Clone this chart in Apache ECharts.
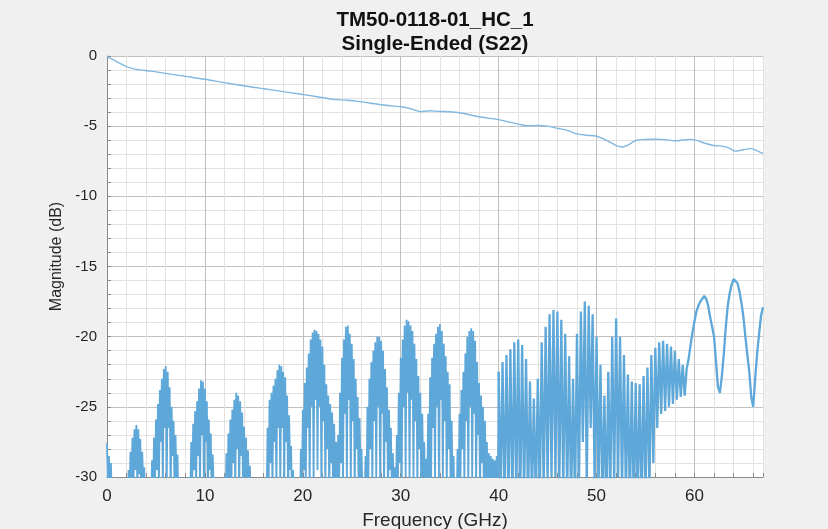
<!DOCTYPE html>
<html>
<head>
<meta charset="utf-8">
<script src="https://cdn.jsdelivr.net/npm/echarts@6/dist/echarts.min.js"></script>
<style>
html,body{margin:0;padding:0;background:#f0f0f0;}
#chart{width:828px;height:529px;}
</style>
</head>
<body>
<div id="chart"></div>
<script>
// ---- data ----
var titleLines = ['TM50-0118-01_HC_1', 'Single-Ended (S22)'];
var xName = 'Frequency (GHz)';
var yName = 'Magnitude (dB)';
var xMin = 0, xMax = 67, xMajor = 10, xMinor = 2;
var yMin = -30, yMax = 0, yMajor = 5, yMinor = 1;

// upper trace: [GHz, dB]
var upperTrace = [
  [0,-0.05],[1,-0.4],[2,-0.76],[3,-0.95],[4.5,-1.08],[6,-1.24],[8,-1.45],[10,-1.66],
  [12,-1.9],[14.6,-2.19],[16,-2.33],[18,-2.54],[19.7,-2.71],[21.5,-2.9],[23.1,-3.09],
  [24.5,-3.15],[25.8,-3.25],[28.2,-3.49],[30,-3.62],[31,-3.75],[32,-3.97],[33,-3.9],
  [34,-3.95],[35,-3.97],[36,-4.04],[38,-4.33],[40,-4.53],[42,-4.85],[43,-4.97],[44,-4.95],
  [45,-5.0],[46,-5.15],[47,-5.3],[48,-5.55],[49,-5.65],[50,-5.72],[51,-6.0],[52,-6.38],
  [52.6,-6.48],[53.2,-6.35],[54,-6.02],[55,-5.95],[56,-5.93],[57,-5.96],[58,-6.04],
  [59,-5.97],[59.6,-5.94],[60.4,-6.05],[61,-6.2],[62,-6.38],[62.8,-6.42],[63.5,-6.55],
  [64.2,-6.78],[65,-6.68],[65.7,-6.6],[66.3,-6.72],[67,-6.95]
];

// lower (rippling) trace, part A: dB every 0.1 GHz from 0 GHz to 39.9 GHz
var lowerStartA = 0, lowerStepA = 0.1;
var lowerDbA = [
  -27.6,-30.5,-28.5,-33,-29.0,-31.5,-31,-34,-32,-34,
  -33,-35,-33,-35,-33,-35,-33,-35,-33,-35,
  -31.5,-34,-29.5,-31.5,-28.2,-30.5,-27.2,-31,-26.6,-29.5,
  -26.3,-31,-26.6,-29.8,-27.3,-31.5,-28.2,-30.5,-29.3,-32,
  -30.5,-33,-32,-34,-30.2,-32,-28.8,-31.5,-27.2,-30.5,
  -25.9,-29.5,-24.8,-31,-23.8,-27.5,-23.0,-31,-22.3,-26.5,
  -22.1,-31,-22.5,-26.5,-23.6,-31.5,-25.0,-28.5,-26.0,-31,
  -27.0,-30.5,-28.4,-32,-30.0,-33,-31.5,-34,-33,-35,
  -33,-35,-32,-34,-30.0,-32,-27.5,-31,-26.2,-29.5,
  -25.3,-31,-24.6,-28.5,-23.7,-31,-23.1,-27.0,-23.2,-31,
  -23.7,-27.5,-24.6,-31.5,-25.9,-29.5,-26.9,-32,-28.4,-31,
  -30.0,-33,-31.5,-34,-33,-35,-33,-35,-32,-34,
  -30.0,-32,-28.3,-31.5,-26.9,-30,-25.9,-31,-25.2,-29,
  -24.5,-31,-24.0,-28,-24.2,-31.5,-24.6,-28.5,-25.4,-31,
  -26.4,-30,-27.2,-31.5,-28.1,-31,-29.2,-32.5,-30.2,-33,
  -32,-35,-33,-35,-33,-35,-33,-35,-33,-35,
  -32,-34,-30.5,-32,-26.5,-31,-24.5,-29,-24.0,-31,
  -23.5,-27.5,-23.0,-31,-22.4,-26.5,-22.0,-31,-22.1,-26.5,
  -22.5,-31,-22.9,-27.5,-24.2,-31.5,-25.6,-29.5,-27.8,-32,
  -29.5,-33,-31.0,-34,-32,-35,-30.5,-33,-28.0,-31.5,
  -25.2,-29.5,-23.3,-31,-22.2,-26.5,-21.2,-31,-20.2,-25,
  -19.7,-30.5,-19.5,-24.5,-19.6,-29.5,-19.8,-25,-20.2,-31,
  -20.7,-26,-22.0,-31,-23.4,-28,-24.2,-31.5,-24.8,-29,
  -25.4,-32,-26.2,-30.5,-27.5,-32.5,-27.0,-31.5,-24.0,-29,
  -21.5,-31,-20.2,-25.5,-19.3,-30.5,-19.2,-24.5,-19.8,-31,
  -20.5,-26,-21.6,-31.5,-23.0,-28,-24.3,-31.5,-25.8,-30,
  -28.0,-32,-30.5,-33,-28.5,-31.5,-25.0,-30,-23.0,-28,
  -21.8,-31,-21.0,-26,-20.4,-30.5,-20.0,-25,-20.0,-31,
  -20.3,-25.5,-21.0,-31,-22.3,-27.5,-23.6,-31.5,-25.2,-29.5,
  -26.5,-32,-28.3,-31,-29.3,-32.5,-27.0,-31,-24.0,-29,
  -21.5,-30.5,-20.2,-25,-19.2,-30,-18.8,-24,-18.9,-30.5,
  -19.2,-24.5,-19.6,-30.5,-20.5,-26,-21.6,-31,-22.8,-28,
  -24.0,-31.5,-25.5,-30,-27.5,-32.5,-28.7,-32,-25.5,-30,
  -22.9,-31,-21.5,-26.5,-20.5,-30.5,-19.8,-25,-19.3,-30.5,
  -19.1,-24.5,-19.6,-30.5,-20.5,-26,-21.4,-31,-22.5,-28,
  -23.4,-31.5,-26.0,-30.5,-28.5,-33,-30.0,-33,-28.0,-31.5,
  -25.5,-30.5,-23.8,-28,-22.5,-31,-21.2,-26,-20.0,-31,
  -19.6,-25,-19.4,-30.5,-19.6,-25.5,-20.3,-31,-21.8,-27,
  -23.3,-31.5,-24.2,-29,-25.0,-32,-26.0,-30.5,-27.5,-32,
  -28.3,-31.5,-28.5,-32,-28.7,-31.5,-28.8,-32,-28.5,-32
];

// lower trace, part B: dB every 0.2 GHz from 40 GHz to 67 GHz
var lowerStartB = 40, lowerStepB = 0.2;
var lowerDbB = [
  -22.5,-31.5,-21.8,-32,-21.3,-31.5,-20.9,-32,-20.4,-31.5,
  -20.2,-32,-20.6,-31.5,-21.6,-32,-23.2,-31.5,-24.4,-32,
  -23.0,-31.5,-20.4,-31,-19.3,-30.5,-18.4,-30,-18.1,-30,
  -18.2,-30.5,-18.8,-31,-19.8,-31.5,-21.4,-32,-23.0,-32,
  -19.8,-31,-18.2,-27.5,-17.5,-30.5,-17.8,-26.5,-18.4,-30.5,
  -20.0,-31,-22.0,-32,-24.2,-32.5,-22.5,-31.5,-20.0,-30.5,
  -18.7,-30.0,-20.0,-31,-21.3,-31.5,-22.7,-32,-23.2,-32,
  -23.3,-32,-23.4,-32,-22.8,-31.5,-22.2,-31,-21.3,-29.0,
  -20.8,-26.5,-20.4,-25.5,-20.3,-25.3,-20.5,-25.0,-20.7,-24.8,
  -21.0,-24.5,-21.6,-24.3,-22.0,-24.2,-22.3,-21.6,-20.6,-19.7,
  -18.9,-18.2,-17.8,-17.5,-17.3,-17.1,-17.3,-17.8,-18.6,-19.3,
  -20.0,-21.8,-23.6,-24.0,-22.8,-21.2,-19.3,-17.8,-16.9,-16.3,
  -15.9,-15.8,-16.2,-16.8,-17.6,-18.6,-20.0,-21.3,-22.5,-24.3,
  -25.0,-23.0,-21.2,-19.8,-18.5,-17.9
];

// ---- build series data ----
function toPairs(arr, start, step) {
  return arr.map(function (v, i) { return [+(start + i * step).toFixed(2), v]; });
}
var lowerTraceA = toPairs(lowerDbA, lowerStartA, lowerStepA);
var lowerTraceB = toPairs(lowerDbB, lowerStartB, lowerStepB);
// join A to B so the trace is continuous
lowerTraceA.push(lowerTraceB[0]);

var traceColor = '#5ea7d9';
var majorGrid = '#c0c0c0';
var minorGrid = '#e2e2e2';
function gridColors(n) {
  var c = [majorGrid];
  for (var i = 1; i < n; i++) c.push(minorGrid);
  return c;
}
var fontFam = '"Liberation Sans", Arial, Helvetica, sans-serif';

var chart = echarts.init(document.getElementById('chart'), null, {renderer: 'canvas'});
chart.setOption({
  backgroundColor: '#f0f0f0',
  animation: false,
  title: {
    text: titleLines.join('\n'),
    left: 430,
    top: 3,
    textAlign: 'center',
    textStyle: {
      fontFamily: fontFam, fontSize: 20.5, fontWeight: 'bold',
      color: '#111', lineHeight: 24
    }
  },
  grid: {
    left: 107, right: 65, top: 56, bottom: 52,
    outerBoundsMode: 'none', containLabel: false,
    show: true, backgroundColor: '#ffffff', borderWidth: 0
  },
  xAxis: {
    type: 'value',
    min: xMin, max: xMax, interval: xMinor,
    name: xName, nameLocation: 'middle', nameGap: 34,
    nameTextStyle: {fontFamily: fontFam, fontSize: 19, color: '#262626'},
    axisLine: {show: true, onZero: false, lineStyle: {color: '#8a8a8a', width: 1}},
    axisTick: {show: true, inside: true, length: 4, lineStyle: {color: '#8a8a8a'}},
    axisLabel: {
      margin: 11, fontFamily: fontFam, fontSize: 17, color: '#262626',
      formatter: function (v) { return (Math.abs(v % xMajor) < 1e-6) ? String(v) : ''; }
    },
    splitLine: {show: true, lineStyle: {color: gridColors(xMajor / xMinor), width: 1}}
  },
  yAxis: {
    type: 'value',
    min: yMin, max: yMax, interval: yMinor,
    name: yName, nameLocation: 'middle', nameGap: 42,
    nameTextStyle: {fontFamily: fontFam, fontSize: 16, color: '#262626', padding: [0, 0, 0, 20]},
    axisLine: {show: true, onZero: false, lineStyle: {color: '#8a8a8a', width: 1}},
    axisTick: {show: true, inside: true, length: 4, lineStyle: {color: '#8a8a8a'}},
    axisLabel: {
      margin: 10, fontFamily: fontFam, fontSize: 15, color: '#262626',
      formatter: function (v) { return (Math.abs(v % yMajor) < 1e-6) ? String(v) : ''; }
    },
    splitLine: {show: true, lineStyle: {color: gridColors(yMajor / yMinor), width: 1}}
  },
  series: [
    {
      type: 'line', data: upperTrace, showSymbol: false, smooth: 0.3,
      lineStyle: {color: '#82b8e0', width: 1.4}, clip: true
    },
    {
      type: 'line', data: lowerTraceA, showSymbol: false,
      lineStyle: {color: traceColor, width: 1.8}, clip: true
    },
    {
      type: 'line', data: lowerTraceB, showSymbol: false,
      lineStyle: {color: traceColor, width: 2.3}, clip: true
    }
  ]
});
</script>
</body>
</html>
